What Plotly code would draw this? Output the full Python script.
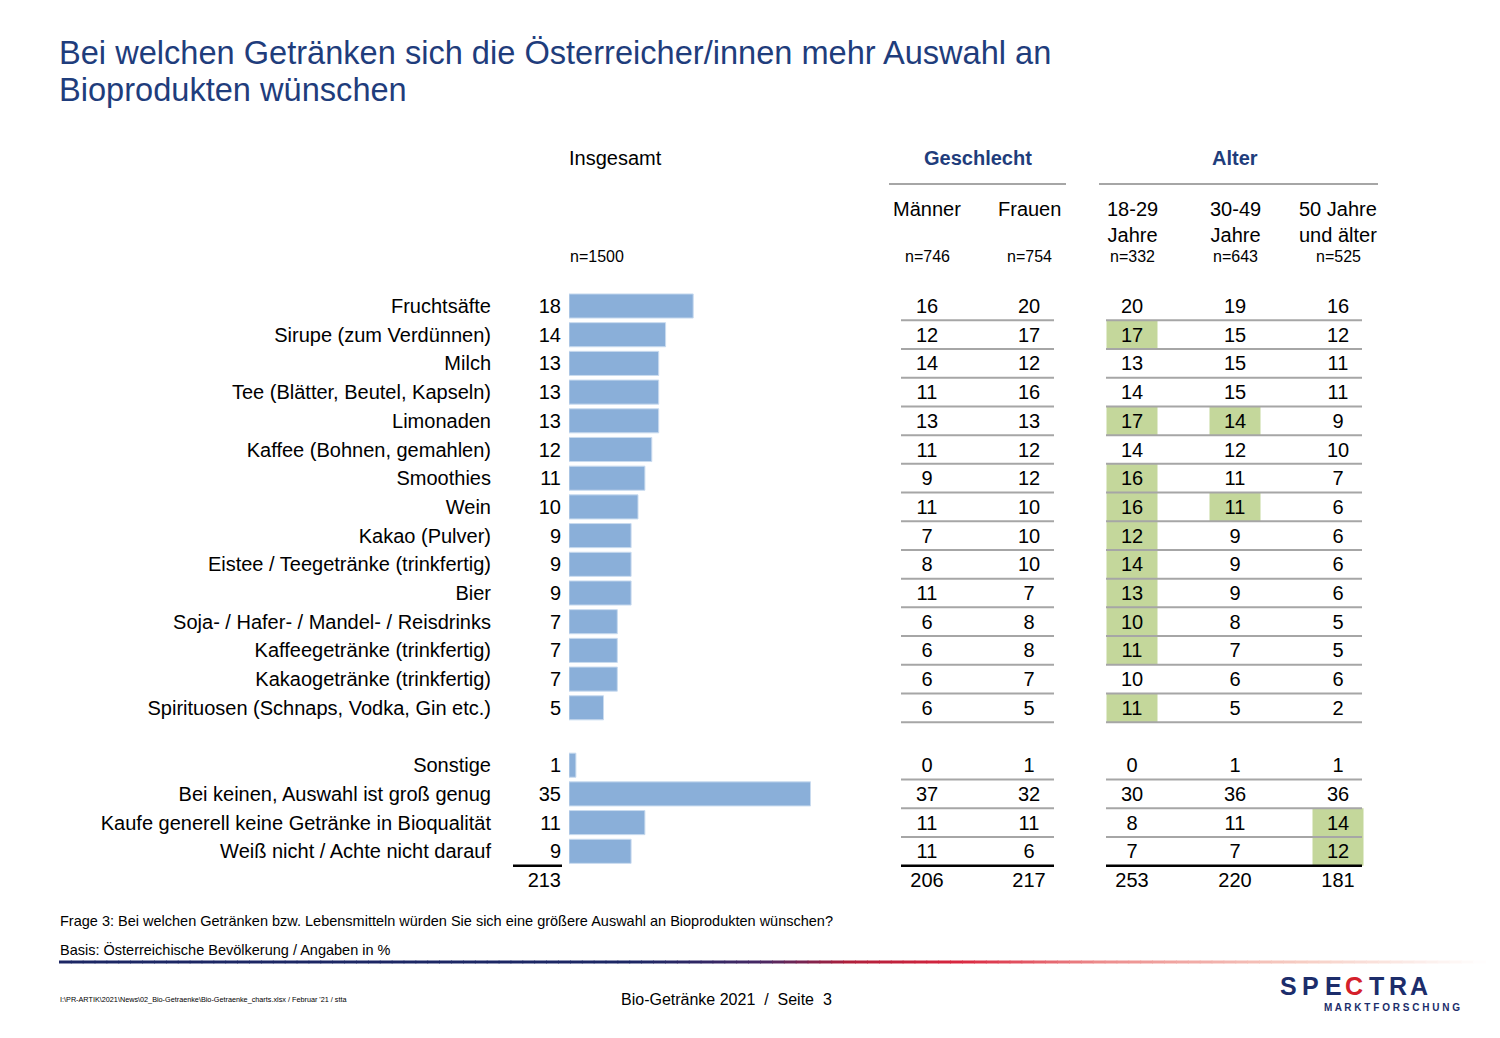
import plotly.graph_objects as go

# ---------------- data ----------------
labels = [
    "Fruchtsäfte", "Sirupe (zum Verdünnen)", "Milch", "Tee (Blätter, Beutel, Kapseln)",
    "Limonaden", "Kaffee (Bohnen, gemahlen)", "Smoothies", "Wein", "Kakao (Pulver)",
    "Eistee / Teegetränke (trinkfertig)", "Bier", "Soja- / Hafer- / Mandel- / Reisdrinks",
    "Kaffeegetränke (trinkfertig)", "Kakaogetränke (trinkfertig)",
    "Spirituosen (Schnaps, Vodka, Gin etc.)",
    "Sonstige", "Bei keinen, Auswahl ist groß genug",
    "Kaufe generell keine Getränke in Bioqualität", "Weiß nicht / Achte nicht darauf",
]
insgesamt = [18, 14, 13, 13, 13, 12, 11, 10, 9, 9, 9, 7, 7, 7, 5, 1, 35, 11, 9]
maenner   = [16, 12, 14, 11, 13, 11, 9, 11, 7, 8, 11, 6, 6, 6, 6, 0, 37, 11, 11]
frauen    = [20, 17, 12, 16, 13, 12, 12, 10, 10, 10, 7, 8, 8, 7, 5, 1, 32, 11, 6]
alter_18_29 = [20, 17, 13, 14, 17, 14, 16, 16, 12, 14, 13, 10, 11, 10, 11, 0, 30, 8, 7]
alter_30_49 = [19, 15, 15, 15, 14, 12, 11, 11, 9, 9, 9, 8, 7, 6, 5, 1, 36, 11, 7]
alter_50    = [16, 12, 11, 11, 9, 10, 7, 6, 6, 6, 6, 5, 5, 6, 2, 1, 36, 14, 12]
totals = [213, 206, 217, 253, 220, 181]

# significant cells (highlighted green)
hl_18_29 = [0, 1, 0, 0, 1, 0, 1, 1, 1, 1, 1, 1, 1, 0, 1, 0, 0, 0, 0]
hl_30_49 = [0, 0, 0, 0, 1, 0, 0, 1, 0, 0, 0, 0, 0, 0, 0, 0, 0, 0, 0]
hl_50    = [0, 0, 0, 0, 0, 0, 0, 0, 0, 0, 0, 0, 0, 0, 0, 0, 0, 1, 1]

col_headers = ["Männer", "Frauen", "18-29<br>Jahre", "30-49<br>Jahre", "50 Jahre<br>und älter"]
col_n = ["n=746", "n=754", "n=332", "n=643", "n=525"]
n_total = "n=1500"
n_main = 15  # product rows before the gap

# ---------------- layout constants ----------------
W, H = 1500, 1038          # window size
OFF = 8                    # page body margin
FW, FH = W - 2 * OFF, H - 2 * OFF
ROW0, STEP = 306, 28.7
TXT_DY = 2 / STEP          # small vertical nudge for text
FONT = "Arial, Liberation Sans, sans-serif"
BLUE = "#1f3d7c"
col_x = [927, 1029, 1132, 1235, 1338]
cell_w = 51
BAR_X0, PX_PER_UNIT = 569, 6.9

row_pos = [i if i < n_main else i + 1 for i in range(len(labels))]
total_row = row_pos[-1] + 1
text_rows = [r + TXT_DY for r in row_pos]
text_rows_tot = text_rows + [total_row + TXT_DY]

def ppx(p):
    return (p - OFF) / FW

def ppy(p):
    return 1 - (p - OFF) / FH

fig = go.Figure()

# highlight cells
hl_y, hl_base, hl_w = [], [], []
for cx, flags in zip(col_x[2:], [hl_18_29, hl_30_49, hl_50]):
    for r, f in zip(row_pos, flags):
        if f:
            hl_y.append(r)
            hl_base.append(cx - cell_w / 2)
            hl_w.append(cell_w)
fig.add_trace(go.Bar(x=hl_w, y=hl_y, base=hl_base, orientation="h", width=1.0,
                     marker=dict(color="#c4d79b", line=dict(width=0)),
                     xaxis="x", yaxis="y", hoverinfo="skip", showlegend=False))

# bars Insgesamt
fig.add_trace(go.Bar(x=insgesamt, y=row_pos, orientation="h", width=0.84,
                     marker=dict(color="#8aafd9", line=dict(color="#c9dbef", width=1)),
                     xaxis="x2", yaxis="y", showlegend=False))

txtfont = dict(family=FONT, size=20, color="#000000")

# labels
fig.add_trace(go.Scatter(x=[491] * len(labels), y=text_rows, text=labels, mode="text",
                         textposition="middle left", textfont=txtfont,
                         xaxis="x", yaxis="y", showlegend=False, hoverinfo="skip"))
# insgesamt values + total
fig.add_trace(go.Scatter(x=[561] * (len(labels) + 1), y=text_rows_tot,
                         text=[str(v) for v in insgesamt] + [str(totals[0])], mode="text",
                         textposition="middle left", textfont=txtfont,
                         xaxis="x", yaxis="y", showlegend=False, hoverinfo="skip"))
# table columns
for cx, vals, tot in zip(col_x, [maenner, frauen, alter_18_29, alter_30_49, alter_50], totals[1:]):
    fig.add_trace(go.Scatter(x=[cx] * (len(vals) + 1), y=text_rows_tot,
                             text=[str(v) for v in vals] + [str(tot)], mode="text",
                             textposition="middle center", textfont=txtfont,
                             xaxis="x", yaxis="y", showlegend=False, hoverinfo="skip"))

shapes = []
blocks = [(901, 1054), (1106, 1362)]
for r in row_pos:
    last = r == row_pos[-1]
    for x0, x1 in blocks:
        shapes.append(dict(type="line", xref="x", yref="y", x0=x0, x1=x1, y0=r + 0.5, y1=r + 0.5,
                           line=dict(color="#000000" if last else "#a6a6a6", width=2.5 if last else 2),
                           layer="above"))
shapes.append(dict(type="line", xref="x", yref="y", x0=513, x1=562,
                   y0=row_pos[-1] + 0.5, y1=row_pos[-1] + 0.5,
                   line=dict(color="#000000", width=2.5)))
# header rules
shapes.append(dict(type="line", xref="x", yref="paper", x0=889, x1=1066, y0=ppy(184), y1=ppy(184),
                   line=dict(color="#a6a6a6", width=2)))
shapes.append(dict(type="line", xref="x", yref="paper", x0=1099, x1=1378, y0=ppy(184), y1=ppy(184),
                   line=dict(color="#a6a6a6", width=2)))

# footer gradient line
stops = [(59, (28, 38, 100)), (640, (28, 38, 100)), (760, (70, 40, 100)), (850, (176, 30, 58)),
         (960, (217, 38, 63)), (1100, (236, 140, 140)), (1300, (246, 205, 195)), (1485, (255, 255, 255))]
nseg = 120
for k in range(nseg):
    xa = 59 + (1485 - 59) * k / nseg
    xb = 59 + (1485 - 59) * (k + 1) / nseg
    xm = (xa + xb) / 2
    for (s0, c0), (s1, c1) in zip(stops[:-1], stops[1:]):
        if s0 <= xm <= s1:
            t = (xm - s0) / (s1 - s0)
            c = tuple(int(round(a + (b - a) * t)) for a, b in zip(c0, c1))
            break
    shapes.append(dict(type="line", xref="paper", yref="paper", x0=ppx(xa), x1=ppx(xb) + 0.0005,
                       y0=ppy(962), y1=ppy(962), line=dict(color="rgb(%d,%d,%d)" % c, width=3)))

ann = []
def A(text, x, y, size=20, color="#000000", xanchor="center", bold=False, align="center"):
    ann.append(dict(text=("<b>%s</b>" % text) if bold else text, x=ppx(x), y=ppy(y),
                    xref="paper", yref="paper", xanchor=xanchor, yanchor="middle",
                    showarrow=False, align=align,
                    font=dict(family=FONT, size=size, color=color)))

A("Bei welchen Getränken sich die Österreicher/innen mehr Auswahl an", 57, 52, size=32.6,
  color=BLUE, xanchor="left", align="left")
A("Bioprodukten wünschen", 57, 90, size=32.6, color=BLUE, xanchor="left", align="left")
A("Insgesamt", 615, 158)
A("Geschlecht", 978, 158, color=BLUE, bold=True)
A("Alter", 1235, 158, color=BLUE, bold=True)
for cx, h, n in zip(col_x, col_headers, col_n):
    if "<br>" in h:
        A(h, cx, 221.5)
    else:
        A(h, cx, 209)
    A(n, cx, 257, size=16)
A(n_total, 568, 257, size=16, xanchor="left")
A("Frage 3: Bei welchen Getränken bzw. Lebensmitteln würden Sie sich eine größere Auswahl an Bioprodukten wünschen?",
  58, 921, size=14.5, xanchor="left")
A("Basis: Österreichische Bevölkerung / Angaben in %", 58, 949, size=14.5, xanchor="left")
A(r"I:\PR-ARTIK\2021\News\02_Bio-Getraenke\Bio-Getraenke_charts.xlsx / Februar '21 / stta",
  58, 999, size=7.25, xanchor="left")
A("Bio-Getränke 2021  /  Seite  3", 726, 999, size=16)

# logo
logo_letters = ["S", "P", "E", "C", "T", "R", "A"]
logo_x = [1288, 1310, 1333, 1354, 1376, 1398, 1419]
for ch, lx in zip(logo_letters, logo_x):
    ann.append(dict(text="<b>%s</b>" % ch, x=ppx(lx), y=ppy(986), xref="paper", yref="paper",
                    xanchor="center", yanchor="middle", showarrow=False,
                    font=dict(family=FONT, size=25, color="#d4202a" if ch == "C" else "#1c2d6b")))
ann.append(dict(text="<b>M A R K T F O R S C H U N G</b>", x=ppx(1322), y=ppy(1007),
                xref="paper", yref="paper", xanchor="left", yanchor="middle", showarrow=False,
                font=dict(family=FONT, size=10, color="#1c2d6b")))

fig.update_layout(
    width=FW, height=FH, margin=dict(l=0, r=0, t=0, b=0),
    paper_bgcolor="white", plot_bgcolor="rgba(0,0,0,0)",
    barmode="overlay", showlegend=False,
    xaxis=dict(domain=[0, 1], range=[OFF, OFF + FW], visible=False, fixedrange=True),
    xaxis2=dict(domain=[ppx(BAR_X0), ppx(BAR_X0 + 500)], range=[0, 500 / PX_PER_UNIT],
                visible=False, anchor="y", fixedrange=True),
    yaxis=dict(domain=[0, 1], range=[(OFF + FH - ROW0) / STEP, (OFF - ROW0) / STEP],
               visible=False, fixedrange=True),
    shapes=shapes, annotations=ann,
)

fig.write_html("out.html")
